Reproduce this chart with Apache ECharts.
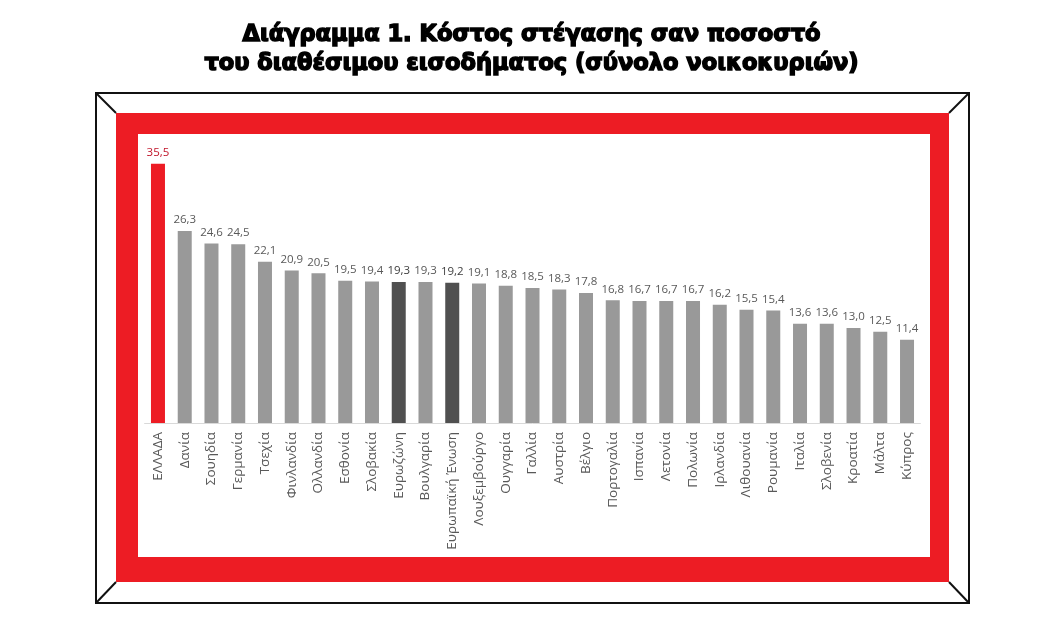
<!DOCTYPE html>
<html><head><meta charset="utf-8">
<script src="https://cdn.jsdelivr.net/npm/echarts@6/dist/echarts.min.js"></script>
<style>html,body{margin:0;padding:0;background:#fff}#c{width:1063px;height:636px}</style>
</head><body><div id="c"></div>
<script>
const titleLines = ['Διάγραμμα 1. Κόστος στέγασης σαν ποσοστό', 'του διαθέσιμου εισοδήματος (σύνολο νοικοκυριών)'];
const categories = ['ΕΛΛΑΔΑ','Δανία','Σουηδία','Γερμανία','Τσεχία','Φινλανδία','Ολλανδία','Εσθονία','Σλοβακία','Ευρωζώνη','Βουλγαρία','Ευρωπαϊκή Ένωση','Λουξεμβούργο','Ουγγαρία','Γαλλία','Αυστρία','Βέλγιο','Πορτογαλία','Ισπανία','Λετονία','Πολωνία','Ιρλανδία','Λιθουανία','Ρουμανία','Ιταλία','Σλοβενία','Κροατία','Μάλτα','Κύπρος'];
const values = [35.5,26.3,24.6,24.5,22.1,20.9,20.5,19.5,19.4,19.3,19.3,19.2,19.1,18.8,18.5,18.3,17.8,16.8,16.7,16.7,16.7,16.2,15.5,15.4,13.6,13.6,13.0,12.5,11.4];
const highlightCountry = 'ΕΛΛΑΔΑ';
const aggregates = ['Ευρωζώνη','Ευρωπαϊκή Ένωση'];

const RED = '#ed1c24';
const data = values.map((v, i) => {
  const c = categories[i];
  if (c === highlightCountry) return {value: v, itemStyle: {color: RED}, label: {color: '#c0152a'}};
  if (aggregates.includes(c)) return {value: v, itemStyle: {color: '#505050'}, label: {color: '#404040'}};
  return {value: v};
});

const chart = echarts.init(document.getElementById('c'));
chart.setOption({
  animation: false,
  backgroundColor: '#fff',
  title: {
    text: titleLines.join('\n'),
    left: 'center', top: 16,
    textStyle: {fontFamily: 'DejaVu Sans', fontWeight: 'bold', fontSize: 22.5, color: '#000', lineHeight: 29,
      textBorderColor: '#000', textBorderWidth: 1.5}
  },
  graphic: [
    {type: 'rect', z: -10, shape: {x: 96, y: 93, width: 873, height: 510}, style: {fill: '#fff', stroke: '#111', lineWidth: 2}},
    {type: 'rect', z: -9, shape: {x: 116, y: 113, width: 833, height: 469}, style: {fill: RED}},
    {type: 'rect', z: -8, shape: {x: 138, y: 134, width: 792, height: 423}, style: {fill: '#fff'}},
    {type: 'line', z: -7, shape: {x1: 96, y1: 93, x2: 116, y2: 113}, style: {stroke: '#111', lineWidth: 2}},
    {type: 'line', z: -7, shape: {x1: 969, y1: 93, x2: 949, y2: 113}, style: {stroke: '#111', lineWidth: 2}},
    {type: 'line', z: -7, shape: {x1: 96, y1: 603, x2: 116, y2: 582}, style: {stroke: '#111', lineWidth: 2}},
    {type: 'line', z: -7, shape: {x1: 969, y1: 603, x2: 949, y2: 582}, style: {stroke: '#111', lineWidth: 2}}
  ],
  grid: {left: 144.6, right: 1063 - 920.4, top: 423 - 7.3 * 38, bottom: 636 - 423},
  xAxis: {
    type: 'category', data: categories,
    axisLine: {lineStyle: {color: '#d9d9d9'}},
    axisTick: {show: false},
    axisLabel: {rotate: 90, interval: 0, color: '#595959', fontFamily: 'Open Sans', fontSize: 13.5, margin: 9}
  },
  yAxis: {type: 'value', min: 0, max: 38, show: false, splitLine: {show: false}},
  series: [{
    type: 'bar', data: data, barWidth: 14,
    itemStyle: {color: '#999999'},
    label: {show: true, position: 'top', distance: 5, color: '#595959', fontFamily: 'Open Sans', fontSize: 11.5,
      formatter: p => p.value.toFixed(1).replace('.', ',')}
  }]
});
</script></body></html>
